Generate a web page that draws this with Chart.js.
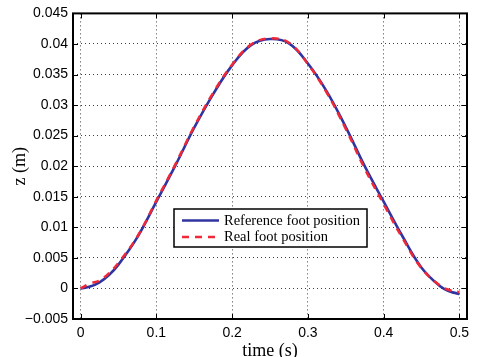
<!DOCTYPE html>
<html>
<head>
<meta charset="utf-8">
<script src="https://cdn.jsdelivr.net/npm/chart.js@4"></script>
<style>
  html, body { margin: 0; padding: 0; background: #fff; }
  #wrap { width: 481px; height: 357px; }
</style>
</head>
<body>
<div id="wrap"><canvas id="myChart"></canvas></div>
<script>
// time samples (s) and foot height (m)
const time = [0, 0.0125, 0.025, 0.0375, 0.05, 0.075, 0.1, 0.125, 0.15, 0.175, 0.2, 0.225, 0.25,
              0.275, 0.3, 0.325, 0.35, 0.375, 0.4, 0.425, 0.45, 0.475, 0.4875, 0.5];
const refZ = [0, 0.0003, 0.0010, 0.0022, 0.0039, 0.0084, 0.0142, 0.0201, 0.0263, 0.0318, 0.0365, 0.0398, 0.0408,
              0.0401, 0.0368, 0.0322, 0.0264, 0.0200, 0.0142, 0.0085, 0.0034, 0.0003, -0.0005, -0.0009];
const realZ = [0, 0.0008, 0.0013, 0.0025, 0.0042, 0.0085, 0.0144, 0.0203, 0.0265, 0.0320, 0.0366, 0.0399, 0.0409,
               0.0402, 0.0367, 0.0320, 0.0261, 0.0196, 0.0138, 0.0082, 0.0033, 0.0004, -0.0003, -0.0006];
const xTicks = [0, 0.1, 0.2, 0.3, 0.4, 0.5];
const yTicks = [-0.005, 0, 0.005, 0.01, 0.015, 0.02, 0.025, 0.03, 0.035, 0.04, 0.045];

const blue = 'rgb(48, 52, 160)';
const red = 'rgb(240, 40, 55)';

function pts(ys) {
    return time.map((t, i) => ({ x: t, y: ys[i] }));
}

// box, inward ticks and legend drawn like the MATLAB figure
const boxPlugin = {
    id: 'box',
    afterDraw(chart) {
        const ctx = chart.ctx;
        const a = chart.chartArea;
        const xs = chart.scales.x, ys = chart.scales.y;
        ctx.save();
        ctx.strokeStyle = '#000';
        ctx.lineWidth = 1;
        ctx.beginPath();
        xTicks.forEach(v => {
            const px = Math.round(xs.getPixelForValue(v)) + 0.5;
            ctx.moveTo(px, a.bottom); ctx.lineTo(px, a.bottom - 5);
            ctx.moveTo(px, a.top); ctx.lineTo(px, a.top + 5);
        });
        yTicks.forEach(v => {
            const py = Math.round(ys.getPixelForValue(v)) + 0.5;
            ctx.moveTo(a.left, py); ctx.lineTo(a.left + 5, py);
            ctx.moveTo(a.right, py); ctx.lineTo(a.right - 5, py);
        });
        ctx.stroke();
        ctx.lineWidth = 2;
        ctx.strokeRect(a.left, a.top, a.right - a.left, a.bottom - a.top);

        // legend
        const lx = 174, ly = 209, lw = 193, lh = 38;
        ctx.fillStyle = '#fff';
        ctx.fillRect(lx, ly, lw, lh);
        ctx.lineWidth = 1.5;
        ctx.strokeRect(lx, ly, lw, lh);
        ctx.font = '14.5px "Liberation Serif", "Times New Roman", serif';
        ctx.textBaseline = 'middle';
        chart.data.datasets.slice().reverse().forEach((ds, i) => {
            const y = ly + 11.5 + i * 16.5;
            ctx.strokeStyle = ds.borderColor;
            ctx.lineWidth = 2.5;
            ctx.setLineDash(ds.borderDash || []);
            ctx.beginPath();
            ctx.moveTo(lx + 8, y); ctx.lineTo(lx + 45, y);
            ctx.stroke();
            ctx.setLineDash([]);
            ctx.fillStyle = '#000';
            ctx.fillText(ds.label, lx + 50, y + 0.5);
        });
        ctx.restore();
    }
};

const ctx = document.getElementById('myChart');
new Chart(ctx, {
    type: 'line',
    data: {
        datasets: [{
            label: 'Real foot position',
            data: pts(realZ),
            borderColor: red,
            borderWidth: 2.5,
            borderDash: [7, 6],
            pointRadius: 0,
            tension: 0.4,
            order: 0
        }, {
            label: 'Reference foot position',
            data: pts(refZ),
            borderColor: blue,
            borderWidth: 2.6,
            pointRadius: 0,
            tension: 0.4,
            order: 1
        }]
    },
    options: {
        responsive: true,
        maintainAspectRatio: false,
        animation: false,
        layout: { padding: { top: 7, right: 14, left: 0, bottom: 0 } },
        scales: {
            x: {
                type: 'linear',
                min: -0.01,
                max: 0.51,
                afterBuildTicks: s => { s.ticks = xTicks.map(v => ({ value: v })); },
                afterFit: s => { s.height = 38; },
                grid: { color: 'rgba(0,0,0,0.75)', drawTicks: false },
                border: { display: false, dash: [1, 3] },
                ticks: {
                    color: '#000',
                    padding: 6,
                    maxRotation: 0,
                    font: { family: '"Liberation Sans", Arial, sans-serif', size: 14 },
                    callback: v => String(v)
                },
                title: {
                    display: true,
                    text: 'time (s)',
                    color: '#000',
                    padding: { top: 0, bottom: -3 },
                    font: { family: '"Liberation Serif", "Times New Roman", serif', size: 18, lineHeight: 1 }
                }
            },
            y: {
                min: -0.005,
                max: 0.045,
                afterBuildTicks: s => { s.ticks = yTicks.map(v => ({ value: v })); },
                afterFit: s => { s.width = 73; },
                grid: { color: 'rgba(0,0,0,0.75)', drawTicks: false },
                border: { display: false, dash: [1, 3] },
                ticks: {
                    color: '#000',
                    padding: 5,
                    font: { family: '"Liberation Sans", Arial, sans-serif', size: 14 },
                    callback: v => v < 0 ? '\u2212' + String(-v) : String(v)
                },
                title: {
                    display: true,
                    text: 'z (m)',
                    color: '#000',
                    padding: { top: 11, bottom: 0 },
                    font: { family: '"Liberation Serif", "Times New Roman", serif', size: 18, lineHeight: 1 }
                }
            }
        },
        plugins: {
            legend: { display: false },
            tooltip: { enabled: false }
        }
    },
    plugins: [boxPlugin]
});
</script>
</body>
</html>
